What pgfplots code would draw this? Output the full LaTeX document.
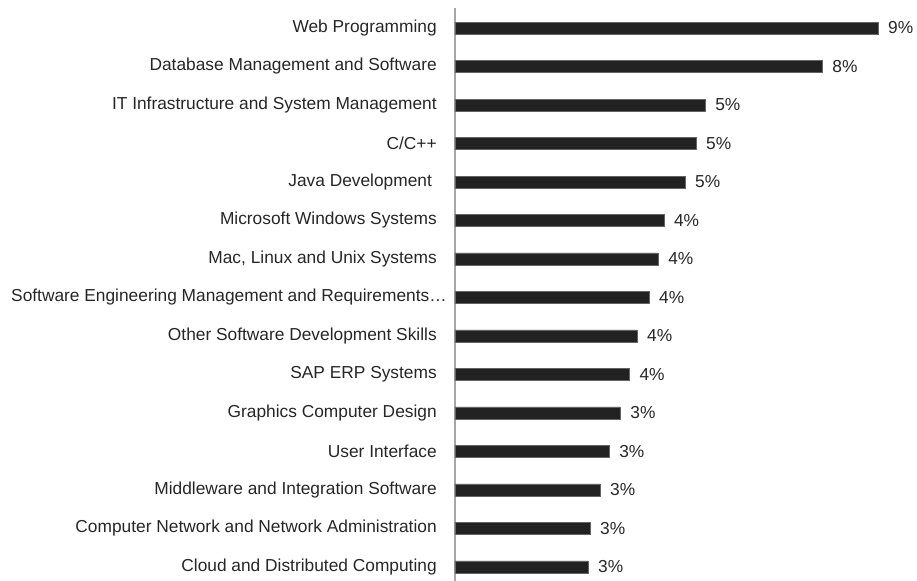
\documentclass[border=0pt]{standalone}
\usepackage{fontspec}
\setmainfont{Liberation Sans}
\usepackage{pgfplots}
\pgfplotsset{compat=1.18}
\definecolor{barcol}{RGB}{34,34,34}
\definecolor{axcol}{RGB}{166,166,166}

\begin{document}
\begin{tikzpicture}
\begin{axis}[
    scale only axis,
    width=346.5pt, height=429.75pt,
    xmin=0, xmax=9.625,
    ymin=-0.364, ymax=14.52,
    axis x line=none,
    axis y line*=left,
    y axis line style={axcol, line width=0.9pt},
    ytick={0,...,14},
    yticklabels={
        Cloud and Distributed Computing,
        Computer Network and Network Administration,
        Middleware and Integration Software,
        User Interface,
        Graphics Computer Design,
        SAP ERP Systems,
        Other Software Development Skills,
        Software Engineering Management and Requirements…\kern-7.5pt,
        {Mac, Linux and Unix Systems},
        Microsoft Windows Systems,
        Java Development\kern3.6pt,
        C/C++,
        IT Infrastructure and System Management,
        Database Management and Software,
        Web Programming},
    major tick length=0pt,
    yticklabel style={font=\fontsize{13pt}{15pt}\selectfont, color=black!85, inner sep=0pt, xshift=-13.5pt},
    /pgf/number format/assume math mode=true,
    clip=false,
    xbar,
    bar width=9pt,
    point meta=x,
    nodes near coords={\pgfmathprintnumber[fixed,precision=0]{\pgfplotspointmeta}\%},
    nodes near coords style={font=\fontsize{13pt}{15pt}\selectfont, color=black!85, anchor=west, inner sep=0pt, xshift=7.5pt},
]
% share of job postings by skill (bottom to top)
\addplot[fill=barcol, draw=barcol!70] coordinates {
    (2.77,0) (2.81,1) (3.02,2) (3.21,3) (3.44,4) (3.63,5) (3.79,6)
    (4.04,7) (4.23,8) (4.35,9) (4.79,10) (5.02,11) (5.21,12)
    (7.65,13) (8.81,14)
};
\end{axis}
\pgfresetboundingbox
\path (-341.25pt,0) rectangle (346.5pt,435.75pt);
\end{tikzpicture}
\end{document}
